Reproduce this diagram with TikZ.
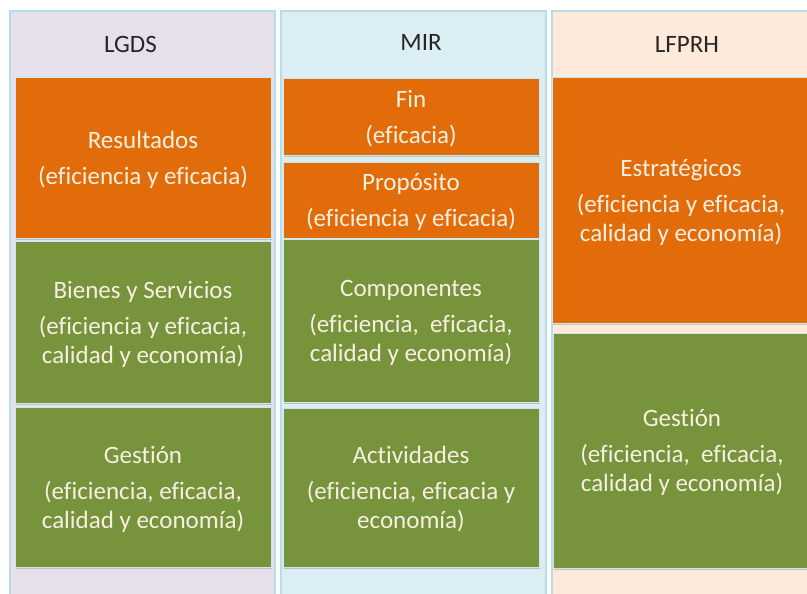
\documentclass[tikz,border=0pt]{standalone}
\usepackage{fontspec}
\setmainfont[Ligatures=NoCommon]{Carlito}
\usepackage{tikz}
\usetikzlibrary{shadows}

\definecolor{lgdsbg}{HTML}{E6E0EC}
\definecolor{mirbg}{HTML}{DBEEF4}
\definecolor{lfprhbg}{HTML}{FDEADA}
\definecolor{colline}{HTML}{B7DDE8}
\definecolor{naranja}{HTML}{E36C0A}
\definecolor{verde}{HTML}{77933C}
\definecolor{textoclaro}{HTML}{F7F0E1}
\definecolor{textoosc}{HTML}{262626}

\tikzset{
  columna/.style={draw=colline, line width=1.2pt},
  encabezado/.style={text=textoosc, font=\fontsize{25}{29}\selectfont},
  caja/.style={draw=colline!70, line width=0.6pt, text=textoclaro, align=center,
    font=\fontsize{25}{29}\selectfont, inner sep=0pt, text depth=0pt,
    drop shadow={shadow xshift=0.5pt, shadow yshift=-2pt, fill=black!40, opacity=.5}},
  cajanaranja/.style={caja, fill=naranja},
  cajaverde/.style={caja, fill=verde}
}

\begin{document}
\begin{tikzpicture}[x=1pt, y=-1pt]
      \useasboundingbox (0,0) rectangle (807,594);
      \fill[white] (0,0) rectangle (807,594);
      % columnas de fondo
      \draw[columna, fill=lgdsbg] (10,11) rectangle (275,610);
      \draw[columna, fill=mirbg] (281,11) rectangle (546,610);
      \draw[columna, fill=lfprhbg] (552,11) rectangle (820,610);
      \node[encabezado] (lgds) at (130.5,44) {LGDS};
      \node[encabezado] (mir) at (421,42) {MIR};
      \node[encabezado] (lfprh) at (687,44) {LFPRH};
      % LGDS
      \node[cajanaranja, minimum width=256pt, minimum height=161pt] (res) at (143,157.5)
        {Resultados\\[7pt](eficiencia y eficacia)};
      \node[cajaverde, minimum width=256pt, minimum height=162pt] (bys) at (143,322)
        {Bienes y Servicios\\[7pt](eficiencia y eficacia,\\calidad y economía)};
      \node[cajaverde, minimum width=256pt, minimum height=160pt] (gesA) at (143,487)
        {Gestión\\[7pt](eficiencia, eficacia,\\calidad y economía)};
      % MIR
      \node[cajanaranja, minimum width=256pt, minimum height=77pt] (fin) at (411,116.5)
        {Fin\\[7pt](eficacia)};
      \node[cajanaranja, minimum width=256pt, minimum height=76pt] (prop) at (411,200)
        {Propósito\\[7pt](eficiencia y eficacia)};
      \node[cajaverde, minimum width=256pt, minimum height=163pt] (comp) at (411,320.5)
        {Componentes\\[7pt](eficiencia,\ \ eficacia,\\calidad y economía)};
      \node[cajaverde, minimum width=256pt, minimum height=159pt] (act) at (411,487.5)
        {Actividades\\[7pt](eficiencia, eficacia y\\economía)};
      % LFPRH
      \node[cajanaranja, minimum width=258pt, minimum height=246pt] (est) at (681,200)
        {Estratégicos\\[7pt](eficiencia y eficacia,\\calidad y economía)};
      \node[cajaverde, minimum width=258pt, minimum height=235pt] (gesC) at (682,450.5)
        {Gestión\\[7pt](eficiencia,\ \ eficacia,\\calidad y economía)};
    \end{tikzpicture}
\end{document}
